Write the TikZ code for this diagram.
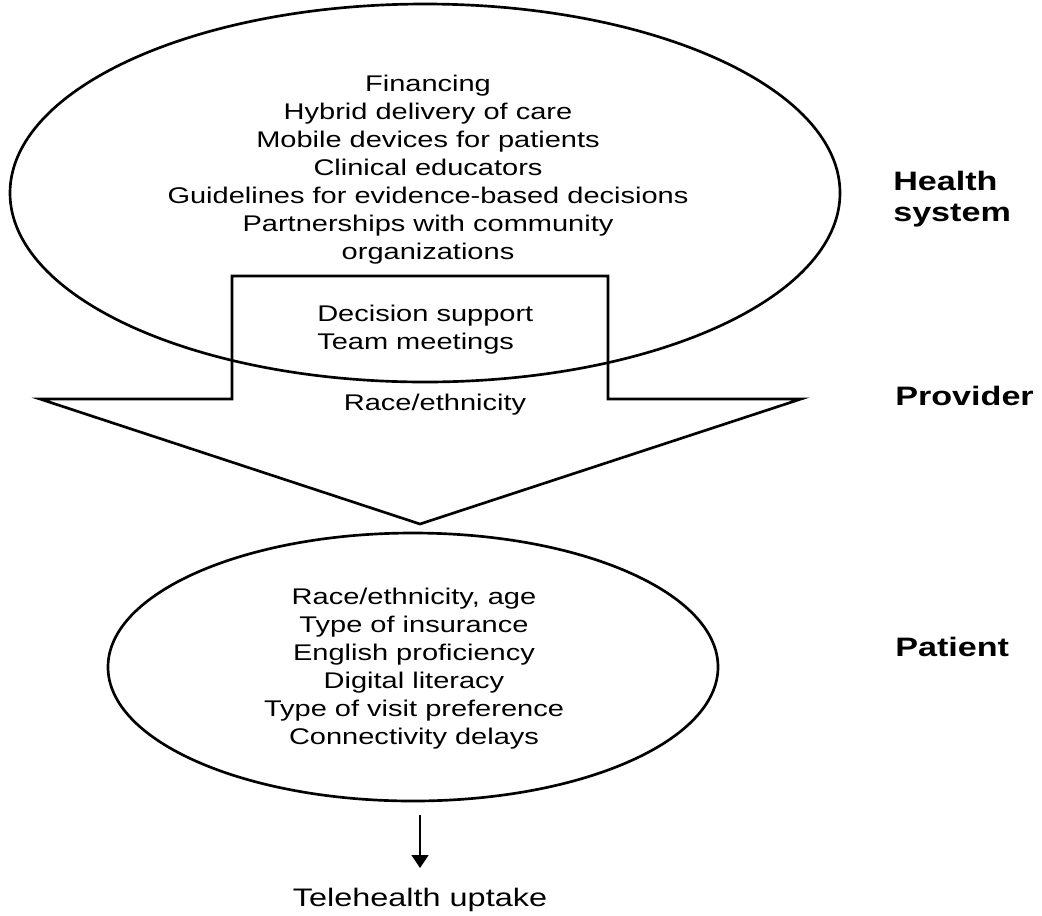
\documentclass[tikz,border=0pt]{standalone}
\usepackage{fontspec}
\setmainfont{Liberation Sans}[FakeStretch=1.28]
\usetikzlibrary{shapes.geometric,arrows.meta}

\begin{document}
\begin{tikzpicture}[x=0.75pt, y=-0.75pt,
ovalnode/.style={ellipse, draw=black, line width=2pt, inner sep=0pt},
listnode/.style={align=center, inner sep=0pt, font=\fontsize{17}{21}\selectfont},
levelnode/.style={anchor=west, align=left, inner sep=0pt, font=\bfseries\fontsize{20}{23.3}\selectfont},
]
\useasboundingbox (0,0) rectangle (1042,915);
%Ellipses
\node[ovalnode, minimum width=622.5pt, minimum height=283.5pt] at (425,193) (healthoval) {};
\node[ovalnode, minimum width=457.5pt, minimum height=201pt]   at (413,667) (patientoval) {};
%Provider arrow
\coordinate (stemNW) at (232,276);
\coordinate (stemNE) at (608,276);
\coordinate (stemSE) at (608,399);
\coordinate (wingE)  at (801,399);
\coordinate (tip)    at (420,524);
\coordinate (wingW)  at (40,399);
\coordinate (stemSW) at (232,399);
\draw[line width=2pt, line join=miter] (stemNW) -- (stemNE) -- (stemSE) -- (wingE) -- (tip) -- (wingW) -- (stemSW) -- cycle;
%Texts
\node[listnode] at (428,170) (healthlist) {Financing\\Hybrid delivery of care\\Mobile devices for patients\\Clinical educators\\Guidelines for evidence-based decisions\\Partnerships with community\\organizations};
\node[listnode, anchor=west, align=left] at (317,330) (providerlist) {Decision support\\Team meetings};
\node[listnode] at (435,405) (race) {Race/ethnicity};
\node[listnode] at (414,669) (patientlist) {Race/ethnicity, age\\Type of insurance\\English proficiency\\Digital literacy\\Type of visit preference\\Connectivity delays};
\node[listnode, font=\fontsize{19}{23}\selectfont] at (420,900) (uptake) {Telehealth uptake};
%Levels
\node[levelnode] at (893,199) (lvhealth) {Health\\system};
\node[levelnode] at (895,396) (lvprovider) {Provider};
\node[levelnode] at (895,647) (lvpatient) {Patient};
%Outcome arrow
\coordinate (outstart) at (420,815);
\coordinate (outend)   at (420,868);
\draw[-{Triangle[width=12.75pt, length=9.75pt]}, line width=1pt] (outstart) -- (outend);
\end{tikzpicture}
\end{document}
